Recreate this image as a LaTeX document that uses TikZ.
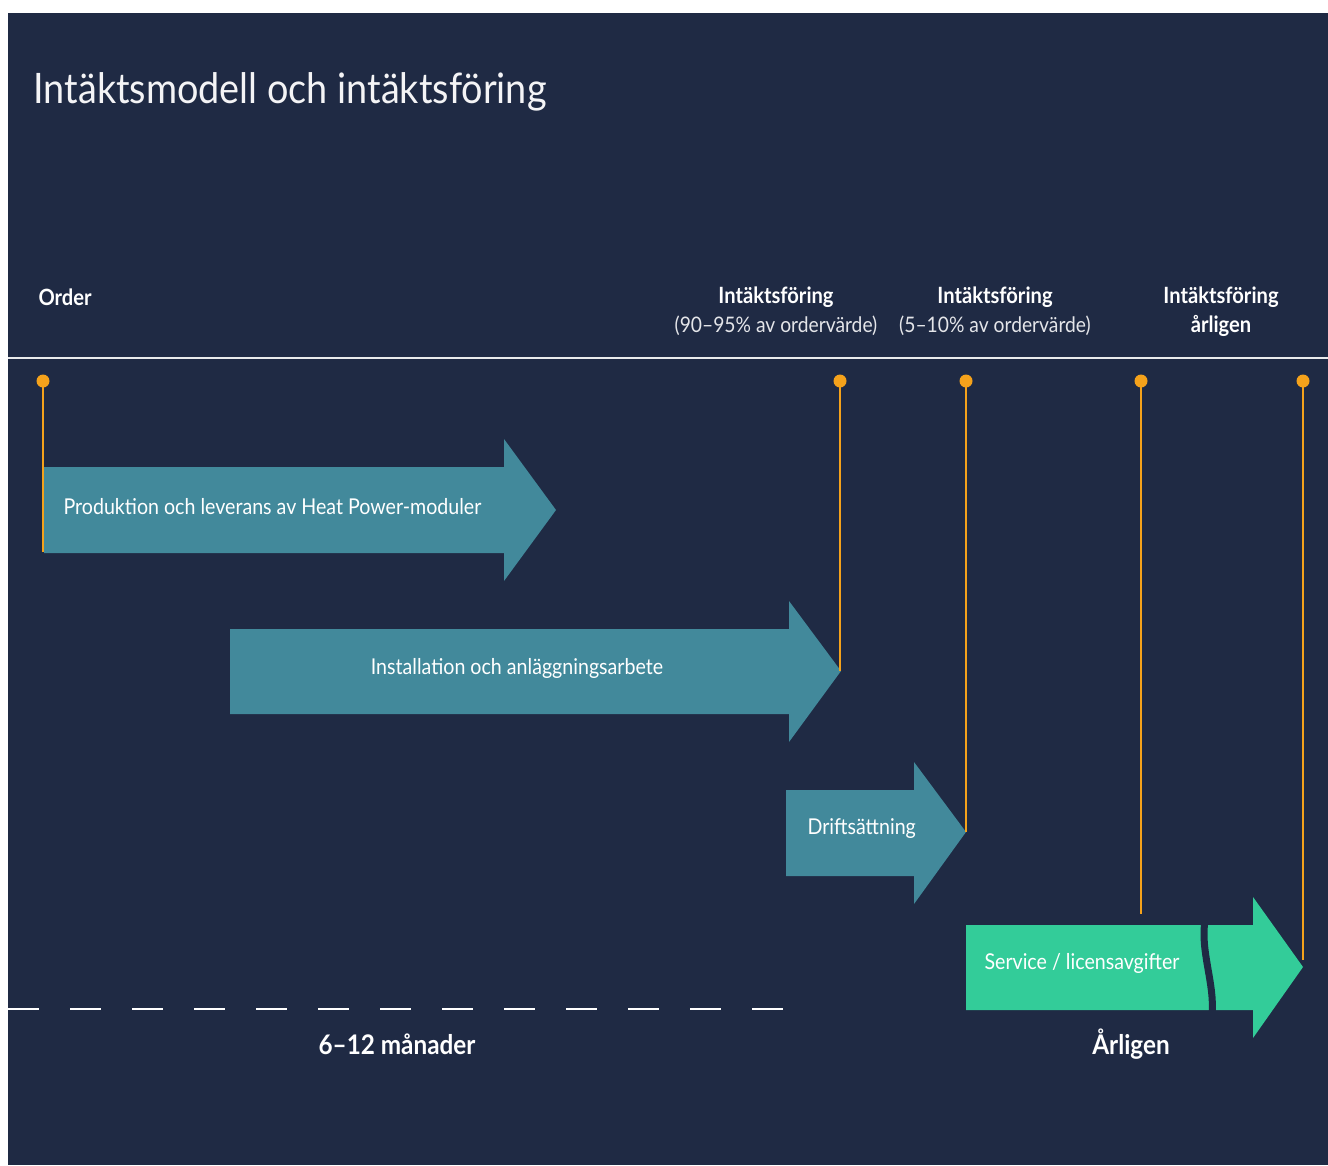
\documentclass[tikz,border=0pt]{standalone}
\usepackage{fontspec}
\setmainfont{Lato}[FakeStretch=0.9]
\usetikzlibrary{positioning}
\definecolor{bgnavy}{HTML}{1F2A44}
\definecolor{tealarrow}{HTML}{42899B}
\definecolor{greenarrow}{HTML}{33CC99}
\definecolor{mileorange}{HTML}{F5A21B}

\begin{document}
\begin{tikzpicture}[x=1pt,y=-1pt,
        head label/.style={text=white,font=\fontsize{22.4}{26}\selectfont\bfseries},
        sub label/.style={text=white!88!bgnavy,font=\fontsize{21.4}{25}\selectfont},
        arrow label/.style={text=white,font=\fontsize{21.8}{25}\selectfont},
        span label/.style={text=white,font=\fontsize{27}{31}\selectfont\bfseries},
        mile dot/.style={circle,fill=mileorange,inner sep=0pt,minimum size=13pt},
        mile line/.style={draw=mileorange,line width=2.8pt}
      ]
      % page and background
      \useasboundingbox (0,0) rectangle (1328,1165);
      \fill[white] (0,0) rectangle (1328,1165);
      \fill[bgnavy] (8,13) rectangle (1328,1165);

      \node[anchor=west,text=white!95!bgnavy,font=\fontsize{42}{48}\selectfont] (title) at (30,92) {Intäktsmodell och intäktsföring};

      % header row
      \node[head label,anchor=west] (order) at (35,297) {Order};
      \node[head label] (rev1) at (776,297) {Intäktsföring};
      \node[sub label] (rev1sub) at (776,326) {(90–95\% av ordervärde)};
      \node[head label] (rev2) at (995,297) {Intäktsföring};
      \node[sub label] (rev2sub) at (995,326) {(5–10\% av ordervärde)};
      \node[head label] (rev3) at (1221,297) {Intäktsföring};
      \node[head label] (rev3sub) at (1221,326) {årligen};
      \draw[white!90!bgnavy,line width=2pt] (8,358) -- (1328,358);

      % phase arrows
      \fill[tealarrow] (44,467) -- (504,467) -- (504,439) -- (556,510) -- (504,581) -- (504,553) -- (44,553) -- cycle;
      \fill[tealarrow] (230,629) -- (789,629) -- (789,601) -- (841,671) -- (789,742) -- (789,714) -- (230,714) -- cycle;
      \fill[tealarrow] (786,790) -- (914,790) -- (914,762) -- (966,832) -- (914,904) -- (914,876) -- (786,876) -- cycle;
      \fill[greenarrow] (966,925) -- (1253,925) -- (1253,897) -- (1303,967) -- (1253,1038) -- (1253,1010) -- (966,1010) -- cycle;
      % break in the service arrow
      \draw[bgnavy,line width=7pt] (1205,921) .. controls (1200,950) and (1215,985) .. (1212,1014);

      \node[arrow label,anchor=west] (prod) at (60,507) {Produktion och leverans av Heat Power-moduler};
      \node[arrow label] (inst) at (517,668) {Installation och anläggningsarbete};
      \node[arrow label,anchor=west] (drift) at (804,829) {Driftsättning};
      \node[arrow label,anchor=west] (serv) at (981,963) {Service / licensavgifter};

      % milestones
      \coordinate (end0) at (43,552);
      \coordinate (end1) at (840,671);
      \coordinate (end2) at (966,832);
      \coordinate (end3) at (1141,914);
      \coordinate (end4) at (1303,960);
      \foreach \mx [count=\i from 0] in {43,840,966,1141,1303} {
        \node[mile dot] (dot\i) at (\mx,381) {};
        \draw[mile line] (dot\i.center) -- (end\i);
      }

      % time spans
      \draw[white,line width=2pt,dash pattern=on 31pt off 31pt] (8,1009) -- (786,1009);
      \node[span label] (months) at (397,1044) {6–12 månader};
      \node[span label] (yearly) at (1131,1044) {Årligen};
    \end{tikzpicture}
\end{document}
